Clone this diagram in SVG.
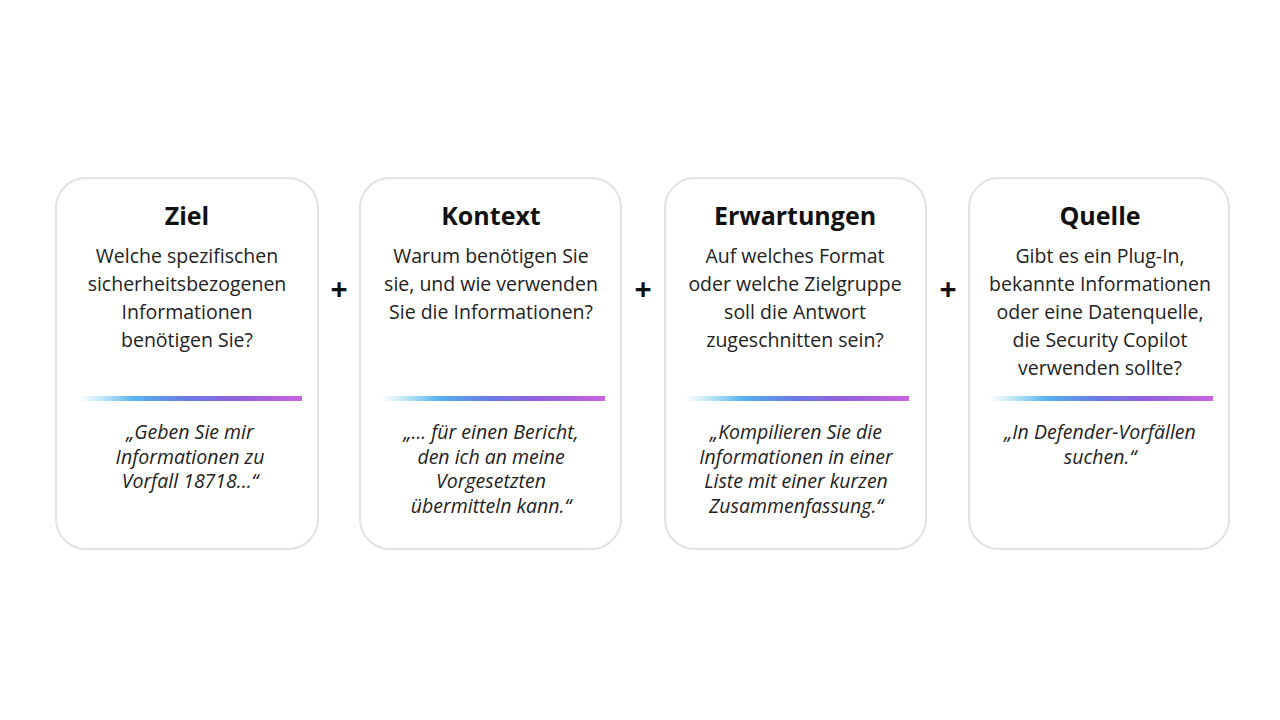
<svg xmlns="http://www.w3.org/2000/svg" width="1280" height="720" viewBox="0 0 1280 720">
<defs>
<linearGradient id="g" x1="0" y1="0" x2="1" y2="0">
<stop offset="0" stop-color="#6fd0f0" stop-opacity="0"/>
<stop offset="0.25" stop-color="#5ab4ee"/>
<stop offset="0.5" stop-color="#6b78e6"/>
<stop offset="0.75" stop-color="#9c5ee0"/>
<stop offset="1" stop-color="#c864e0"/>
</linearGradient>
</defs>
<style>
.card{fill:#ffffff;stroke:#e2e2e2;stroke-width:2}
.t{font-family:"Open Sans","Noto Sans",sans-serif;font-weight:700;font-size:25px;fill:#111;text-anchor:middle}
.b{font-family:"Open Sans","Noto Sans",sans-serif;font-size:19.5px;fill:#222;text-anchor:middle}
.q{font-family:"Open Sans","Noto Sans",sans-serif;font-style:italic;font-size:19.5px;fill:#222;text-anchor:middle}
.p{font-family:"Open Sans","Noto Sans",sans-serif;font-weight:700;font-size:30px;fill:#111;text-anchor:middle}
</style>
<rect width="1280" height="720" fill="#ffffff"/>
<g id="ziel">
<rect class="card" x="56" y="178" width="262" height="371" rx="30"/>
<text class="t" x="187" y="225">Ziel</text>
<text class="b" x="187" y="263">Welche spezifischen</text>
<text class="b" x="187" y="291">sicherheitsbezogenen</text>
<text class="b" x="187" y="319">Informationen</text>
<text class="b" x="187" y="347">benötigen Sie?</text>
<rect x="78" y="396" width="224" height="5" fill="url(#g)"/>
<text class="q" x="190" y="439">„Geben Sie mir</text>
<text class="q" x="190" y="463.5">Informationen zu</text>
<text class="q" x="190" y="488">Vorfall 18718...“</text>
</g>
<g id="kontext">
<rect class="card" x="360" y="178" width="261" height="371" rx="30"/>
<text class="t" x="491" y="225">Kontext</text>
<text class="b" x="491" y="263">Warum benötigen Sie</text>
<text class="b" x="491" y="291">sie, und wie verwenden</text>
<text class="b" x="491" y="319">Sie die Informationen?</text>
<rect x="381" y="396" width="224" height="5" fill="url(#g)"/>
<text class="q" x="491" y="439">„... für einen Bericht,</text>
<text class="q" x="491" y="463.5">den ich an meine</text>
<text class="q" x="491" y="488">Vorgesetzten</text>
<text class="q" x="491" y="512.5">übermitteln kann.“</text>
</g>
<g id="erwartungen">
<rect class="card" x="665" y="178" width="261" height="371" rx="30"/>
<text class="t" x="795" y="225">Erwartungen</text>
<text class="b" x="795" y="263">Auf welches Format</text>
<text class="b" x="795" y="291">oder welche Zielgruppe</text>
<text class="b" x="795" y="319">soll die Antwort</text>
<text class="b" x="795" y="347">zugeschnitten sein?</text>
<rect x="685" y="396" width="224" height="5" fill="url(#g)"/>
<text class="q" x="796" y="439">„Kompilieren Sie die</text>
<text class="q" x="796" y="463.5">Informationen in einer</text>
<text class="q" x="796" y="488">Liste mit einer kurzen</text>
<text class="q" x="796" y="512.5">Zusammenfassung.“</text>
</g>
<g id="quelle">
<rect class="card" x="969" y="178" width="260" height="371" rx="30"/>
<text class="t" x="1100" y="225">Quelle</text>
<text class="b" x="1100" y="263">Gibt es ein Plug-In,</text>
<text class="b" x="1100" y="291">bekannte Informationen</text>
<text class="b" x="1100" y="319">oder eine Datenquelle,</text>
<text class="b" x="1100" y="347">die Security Copilot</text>
<text class="b" x="1100" y="375">verwenden sollte?</text>
<rect x="989" y="396" width="224" height="5" fill="url(#g)"/>
<text class="q" x="1100" y="439">„In Defender-Vorfällen</text>
<text class="q" x="1100" y="463.5">suchen.“</text>
</g>
<g id="connectors">
<text class="p" x="339" y="300">+</text>
<text class="p" x="643" y="300">+</text>
<text class="p" x="948" y="300">+</text>
</g>
</svg>
